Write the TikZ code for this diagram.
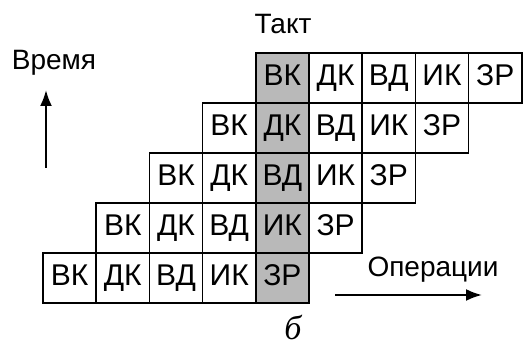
\documentclass[tikz,border=0pt]{standalone}
\usepackage{fontspec}
\setmainfont{Liberation Sans}
\newfontfamily\serifit{Liberation Serif}
\usetikzlibrary{arrows.meta}

\tikzset{
  cell/.style={draw=black, line width=1.7pt, minimum width=53.2pt, minimum height=50pt, inner sep=0pt, text height=21pt, text depth=5pt, font=\fontsize{30}{32}\selectfont},
  taktcell/.style={cell, fill=gray!55},
  lbl/.style={inner sep=0pt, font=\fontsize{28}{30}\selectfont},
  axis/.style={line width=2.2pt, -{Latex[length=16pt,width=12pt]}}
}

\begin{document}
\begin{tikzpicture}[x=1pt, y=-1pt]
\useasboundingbox (0,0) rectangle (525,347);

% rows of the pipeline, bottom row first
\foreach \r in {0,...,4} {
  \foreach \op [count=\j from 0] in {ВК,ДК,ВД,ИК,ЗР} {
    \pgfmathtruncatemacro{\k}{\r+\j}
    \ifnum\k=4
      \node[taktcell, name=c\r\j] at ({43+53.2*\k+26.6},{278-50*\r}) {\op};
    \else
      \node[cell, name=c\r\j] at ({43+53.2*\k+26.6},{278-50*\r}) {\op};
    \fi
  }
}

\node[lbl, name=takt] at (283,24) {Такт};
\node[lbl, name=time] at (54,63) {Время};
\node[lbl, name=ops] at (433,270) {Операции};
\node[inner sep=0pt, name=sub, font=\serifit\itshape\fontsize{34}{36}\selectfont] at (293,327) {б};

\coordinate (t0) at (46,168);
\coordinate (t1) at (46,90);
\coordinate (o0) at (335,295);
\coordinate (o1) at (482,295);
\draw[axis] (t0) -- (t1);
\draw[axis] (o0) -- (o1);
\end{tikzpicture}
\end{document}
